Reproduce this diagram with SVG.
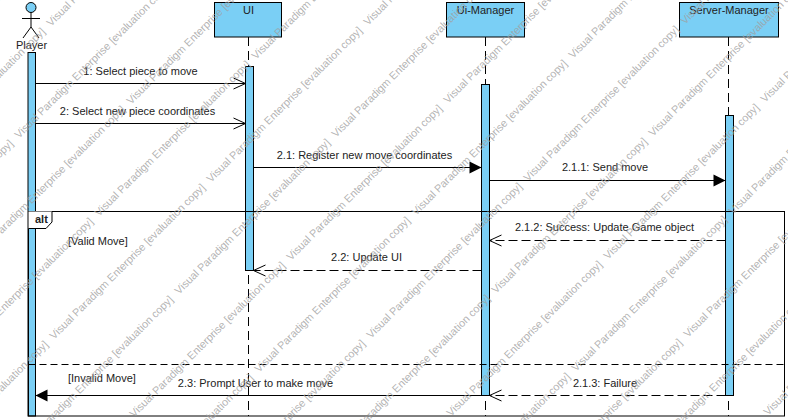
<svg xmlns="http://www.w3.org/2000/svg" width="788" height="420" viewBox="0 0 788 420">
<style>
text{font-family:"Liberation Sans",Arial,sans-serif;font-size:11px;fill:#222}
.box{fill:#7acff5;stroke:#000;stroke-width:1}
.life{stroke:#000;stroke-width:1;stroke-dasharray:9 5;fill:none}
.msg{stroke:#000;stroke-width:1;fill:none}
.ret{stroke:#000;stroke-width:1;fill:none;stroke-dasharray:9 4}
.frame{fill:none;stroke:#000;stroke-width:1}
.c{text-anchor:middle}
.wm{fill:#a0a0a0;fill-opacity:.8;font-size:10.8px;font-weight:400}
</style>
<defs>
<marker id="open" markerUnits="userSpaceOnUse" markerWidth="14" markerHeight="14" refX="13" refY="7" orient="auto"><path d="M1 1.500 L13 7 L1 12.500" fill="none" stroke="#000"/></marker>
<marker id="fill" markerUnits="userSpaceOnUse" markerWidth="14" markerHeight="14" refX="13" refY="7" orient="auto"><path d="M1 1 L13 7 L1 13Z" fill="#000"/></marker>
</defs>
<rect width="788" height="420" fill="#fff"/>
<g id="lifelines">
<line class="life" x1="248.5" y1="37" x2="248.5" y2="416"/>
<line class="life" x1="485.5" y1="37" x2="485.5" y2="416"/>
<line class="life" x1="728.5" y1="37" x2="728.5" y2="416"/>
</g>
<g id="node-player">
<circle cx="31" cy="7.5" r="5" class="box"/>
<path d="M31 12.5V27M22 18.5H40M23 38L31 27L39 38" fill="none" stroke="#000"/>
<text class="c" x="31.500" y="49">Player</text>
<rect class="box" x="28" y="52.500" width="7.500" height="363.500"/>
</g>
<g id="node-ui">
<rect class="box" x="214.500" y="2.500" width="67" height="34.500"/>
<text class="c" x="248.500" y="14">UI</text>
<rect class="box" x="245.500" y="66.500" width="8" height="204"/>
</g>
<g id="node-ui-manager">
<rect class="box" x="446.500" y="2.500" width="78" height="34.500"/>
<text class="c" x="485.500" y="14">Ui-Manager</text>
<rect class="box" x="481.500" y="84.500" width="8" height="311"/>
</g>
<g id="node-server-manager">
<rect class="box" x="679.500" y="2.500" width="99" height="34.500"/>
<text class="c" x="729" y="14">Server-Manager</text>
<rect class="box" x="725.500" y="115.500" width="8" height="280"/>
</g>
<g id="frame-alt">
<rect class="frame" x="28.500" y="211.500" width="756" height="204.500"/>
<path d="M28.500 211.500H52V222L46 228.500H28.500Z" fill="#fff"/>
<path d="M28.500 228.500H46L52 222V211.500" fill="none" stroke="#000"/>
<text x="35" y="223" style="font-weight:700">alt</text>
<text x="68" y="245">[Valid Move]</text>
<line x1="28.500" y1="364.500" x2="784.500" y2="364.500" stroke="#000" stroke-dasharray="7 4"/>
<text x="68" y="382">[Invalid Move]</text>
</g>
<g id="connectors">
<line class="msg" x1="35.500" y1="83.500" x2="245.500" y2="83.500" marker-end="url(#open)"/>
<line class="msg" x1="35.500" y1="123.500" x2="245.500" y2="123.500" marker-end="url(#open)"/>
<line class="msg" x1="253.500" y1="167.500" x2="481.500" y2="167.500" marker-end="url(#fill)"/>
<line class="msg" x1="489.500" y1="180.500" x2="725.500" y2="180.500" marker-end="url(#fill)"/>
<line class="ret" x1="725.500" y1="240.500" x2="489.500" y2="240.500" marker-end="url(#open)"/>
<line class="ret" x1="481.500" y1="270.500" x2="253.500" y2="270.500" marker-end="url(#open)"/>
<line class="msg" x1="481.500" y1="395.500" x2="35.500" y2="395.500" marker-end="url(#fill)"/>
<line class="ret" x1="725.500" y1="395.500" x2="489.500" y2="395.500" marker-end="url(#open)"/>
<text class="c" x="140.500" y="75">1: Select piece to move</text>
<text class="c" x="137.500" y="115">2: Select new piece coordinates</text>
<text class="c" x="364.500" y="159">2.1: Register new move coordinates</text>
<text class="c" x="605" y="171">2.1.1: Send move</text>
<text class="c" x="604.500" y="231">2.1.2: Success: Update Game object</text>
<text class="c" x="366.500" y="261">2.2: Update UI</text>
<text class="c" x="255.500" y="387">2.3: Prompt User to make move</text>
<text class="c" x="605" y="387">2.1.3: Failure</text>
</g>
<g id="watermark" transform="translate(3 2)">
<text class="wm" transform="translate(-106 495) rotate(-45)">Visual Paradigm Enterprise [evaluation copy]</text>
<text class="wm" transform="translate(-29 260) rotate(-45)">Visual Paradigm Enterprise [evaluation copy]</text>
<text class="wm" transform="translate(51 338) rotate(-45)">Visual Paradigm Enterprise [evaluation copy]</text>
<text class="wm" transform="translate(131 416) rotate(-45)">Visual Paradigm Enterprise [evaluation copy]</text>
<text class="wm" transform="translate(211 494) rotate(-45)">Visual Paradigm Enterprise [evaluation copy]</text>
<text class="wm" transform="translate(-109 182) rotate(-45)">Visual Paradigm Enterprise [evaluation copy]</text>
<text class="wm" transform="translate(48 25) rotate(-45)">Visual Paradigm Enterprise [evaluation copy]</text>
<text class="wm" transform="translate(128 103) rotate(-45)">Visual Paradigm Enterprise [evaluation copy]</text>
<text class="wm" transform="translate(208 181) rotate(-45)">Visual Paradigm Enterprise [evaluation copy]</text>
<text class="wm" transform="translate(288 259) rotate(-45)">Visual Paradigm Enterprise [evaluation copy]</text>
<text class="wm" transform="translate(368 337) rotate(-45)">Visual Paradigm Enterprise [evaluation copy]</text>
<text class="wm" transform="translate(448 415) rotate(-45)">Visual Paradigm Enterprise [evaluation copy]</text>
<text class="wm" transform="translate(528 493) rotate(-45)">Visual Paradigm Enterprise [evaluation copy]</text>
<text class="wm" transform="translate(365 24) rotate(-45)">Visual Paradigm Enterprise [evaluation copy]</text>
<text class="wm" transform="translate(445 102) rotate(-45)">Visual Paradigm Enterprise [evaluation copy]</text>
<text class="wm" transform="translate(525 180) rotate(-45)">Visual Paradigm Enterprise [evaluation copy]</text>
<text class="wm" transform="translate(605 258) rotate(-45)">Visual Paradigm Enterprise [evaluation copy]</text>
<text class="wm" transform="translate(685 336) rotate(-45)">Visual Paradigm Enterprise [evaluation copy]</text>
<text class="wm" transform="translate(765 414) rotate(-45)">Visual Paradigm Enterprise [evaluation copy]</text>
<text class="wm" transform="translate(682 23) rotate(-45)">Visual Paradigm Enterprise [evaluation copy]</text>
<text class="wm" transform="translate(762 101) rotate(-45)">Visual Paradigm Enterprise [evaluation copy]</text>
<text class="wm" transform="translate(-141 294) rotate(-45)">Visual Paradigm Enterprise [evaluation copy]</text>
<text class="wm" transform="translate(-61 372) rotate(-45)">Visual Paradigm Enterprise [evaluation copy]</text>
<text class="wm" transform="translate(19 450) rotate(-45)">Visual Paradigm Enterprise [evaluation copy]</text>
<text class="wm" transform="translate(99 528) rotate(-45)">Visual Paradigm Enterprise [evaluation copy]</text>
<text class="wm" transform="translate(-64 59) rotate(-45)">Visual Paradigm Enterprise [evaluation copy]</text>
<text class="wm" transform="translate(16 137) rotate(-45)">Visual Paradigm Enterprise [evaluation copy]</text>
<text class="wm" transform="translate(96 215) rotate(-45)">Visual Paradigm Enterprise [evaluation copy]</text>
<text class="wm" transform="translate(176 293) rotate(-45)">Visual Paradigm Enterprise [evaluation copy]</text>
<text class="wm" transform="translate(256 371) rotate(-45)">Visual Paradigm Enterprise [evaluation copy]</text>
<text class="wm" transform="translate(336 449) rotate(-45)">Visual Paradigm Enterprise [evaluation copy]</text>
<text class="wm" transform="translate(416 527) rotate(-45)">Visual Paradigm Enterprise [evaluation copy]</text>
<text class="wm" transform="translate(253 58) rotate(-45)">Visual Paradigm Enterprise [evaluation copy]</text>
<text class="wm" transform="translate(333 136) rotate(-45)">Visual Paradigm Enterprise [evaluation copy]</text>
<text class="wm" transform="translate(413 214) rotate(-45)">Visual Paradigm Enterprise [evaluation copy]</text>
<text class="wm" transform="translate(493 292) rotate(-45)">Visual Paradigm Enterprise [evaluation copy]</text>
<text class="wm" transform="translate(573 370) rotate(-45)">Visual Paradigm Enterprise [evaluation copy]</text>
<text class="wm" transform="translate(653 448) rotate(-45)">Visual Paradigm Enterprise [evaluation copy]</text>
<text class="wm" transform="translate(733 526) rotate(-45)">Visual Paradigm Enterprise [evaluation copy]</text>
<text class="wm" transform="translate(570 57) rotate(-45)">Visual Paradigm Enterprise [evaluation copy]</text>
<text class="wm" transform="translate(650 135) rotate(-45)">Visual Paradigm Enterprise [evaluation copy]</text>
<text class="wm" transform="translate(730 213) rotate(-45)">Visual Paradigm Enterprise [evaluation copy]</text>
</g>
</svg>
